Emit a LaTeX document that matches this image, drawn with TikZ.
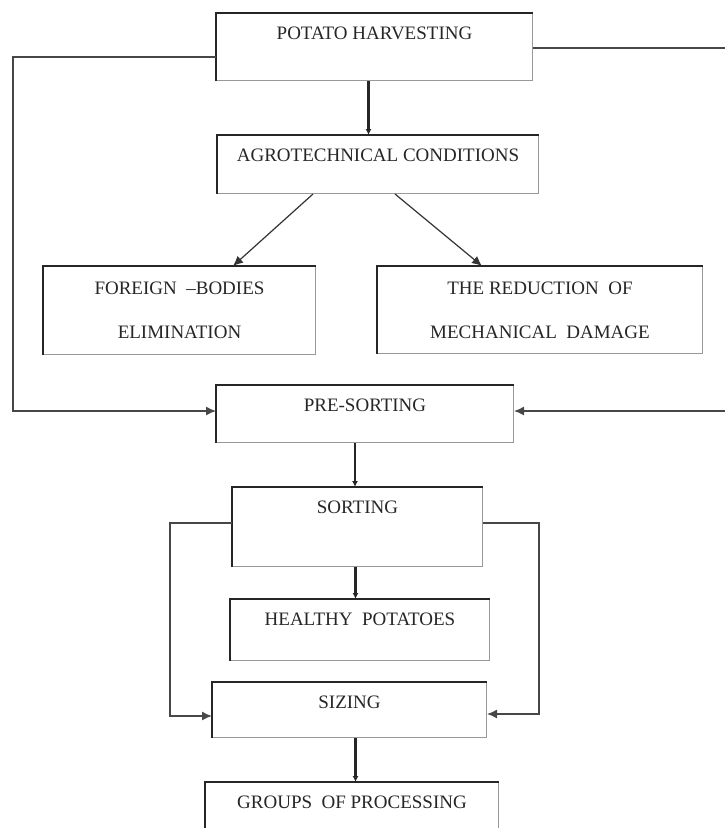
\documentclass[tikz,border=0pt]{standalone}
\usepackage{fontspec}
\setmainfont{Liberation Serif}
\usetikzlibrary{arrows.meta}

\tikzset{
  box/.style={draw=black!40, line width=1pt, inner sep=0pt, anchor=north west,
    align=center, text=black!85, font=\fontsize{19}{44}\selectfont},
  toptext/.style={text height=26pt, text depth=#1},
  rim/.style={line width=2.2pt, black!85},
  flow/.style={line width=2.4pt, black!85, -{Latex[length=6pt,width=6pt]}},
  slant/.style={line width=1.2pt, black!80, -{Latex[length=10pt,width=9pt]}},
  rail/.style={line width=1.4pt, black!72, -{Latex[length=10pt,width=9pt]}}
}

\begin{document}
\begin{tikzpicture}[x=1pt, y=-1pt]
\useasboundingbox (0,0) rectangle (725,828);

% boxes
\node[box, toptext=41pt, minimum width=316pt] (harvest) at (216,13) {POTATO HARVESTING};
\node[box, toptext=32pt, minimum width=321pt] (agro) at (217,135) {AGROTECHNICAL CONDITIONS};
\node[box, minimum width=272pt, minimum height=88pt] (foreign) at (43,266) {FOREIGN \ \textendash BODIES\\ELIMINATION};
\node[box, minimum width=325pt, minimum height=87pt] (reduction) at (377,266) {THE REDUCTION \ OF\\MECHANICAL \ DAMAGE};
\node[box, toptext=31pt, minimum width=297pt] (presort) at (216,385) {PRE-SORTING};
\node[box, toptext=53pt, minimum width=250pt] (sorting) at (232,487) {SORTING};
\node[box, toptext=35pt, minimum width=259pt] (healthy) at (230,599) {HEALTHY \ POTATOES};
\node[box, toptext=29pt, minimum width=274pt] (sizing) at (212,682) {SIZING};
\node[box, toptext=70pt, minimum width=293pt] (groups) at (205,782) {GROUPS \ OF PROCESSING};

% heavier left and top edges
\foreach \n in {harvest,agro,foreign,reduction,presort,sorting,healthy,sizing,groups}
  \draw[rim] (\n.south west) |- (\n.north east);

% main line
\draw[flow] ([xshift=-6pt]harvest.south) -- ([xshift=-6pt]harvest.south |- agro.north);
\draw[slant] ([xshift=96pt]agro.south west) -- ([xshift=190pt]foreign.north west);
\draw[slant] ([xshift=178pt]agro.south west) -- ([xshift=105pt]reduction.north west);
\draw[flow] ([xshift=-10pt]presort.south) -- ([xshift=-10pt]presort.south |- sorting.north);
\draw[flow] ([xshift=-2pt]sorting.south) -- ([xshift=-2pt]sorting.south |- healthy.north);
\draw[flow] ([xshift=6pt]sizing.south) -- ([xshift=6pt]sizing.south |- groups.north);

% side rails
\draw[rail] ([yshift=-10pt]harvest.west) -- ++(-203,0) |- ([yshift=3pt]presort.west);
\draw[rail] ([yshift=-1pt]harvest.east) -- ++(196,0) |- ([yshift=3pt]presort.east);
\draw[rail] ([yshift=4pt]sorting.west) -- ++(-62,0) |- ([yshift=-6pt]sizing.west);
\draw[rail] ([yshift=4pt]sorting.east) -- ++(56,0) |- ([yshift=-4pt]sizing.east);
\end{tikzpicture}
\end{document}
